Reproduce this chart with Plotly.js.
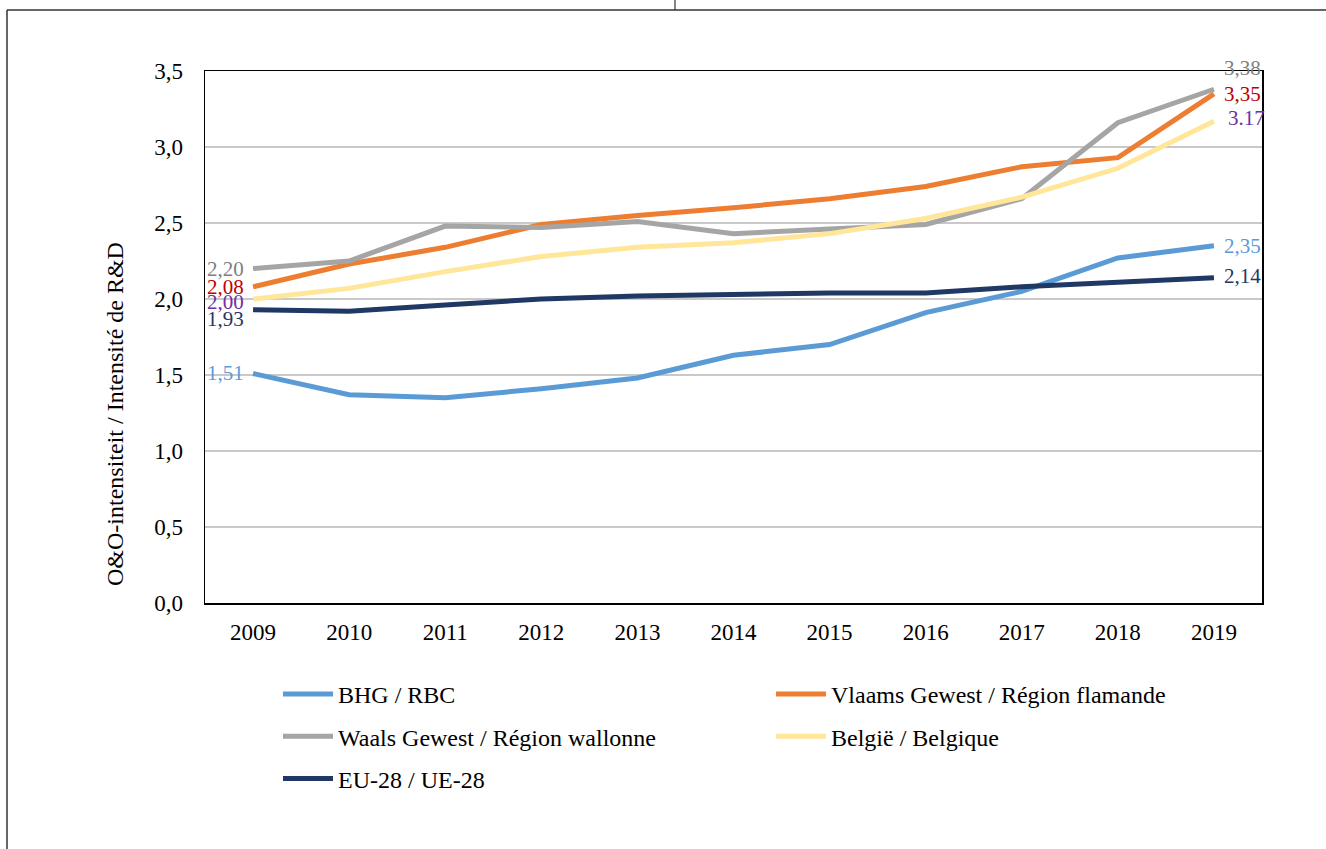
<!DOCTYPE html>
<html>
<head>
<meta charset="utf-8">
<script src="https://cdn.plot.ly/plotly-3.0.1.min.js"></script>
<style>html,body{margin:0;padding:0;background:#fff;}#chart{width:1326px;height:849px;}</style>
</head>
<body>
<div id="chart"></div>
<script>
const years = ['2009','2010','2011','2012','2013','2014','2015','2016','2017','2018','2019'];
const bhg    = [1.51, 1.37, 1.35, 1.41, 1.48, 1.63, 1.70, 1.91, 2.05, 2.27, 2.35];
const vlaams = [2.08, 2.23, 2.34, 2.49, 2.55, 2.60, 2.66, 2.74, 2.87, 2.93, 3.35];
const waals  = [2.20, 2.25, 2.48, 2.47, 2.51, 2.43, 2.46, 2.49, 2.66, 3.16, 3.38];
const belgie = [2.00, 2.07, 2.18, 2.28, 2.34, 2.37, 2.43, 2.53, 2.67, 2.86, 3.17];
const eu     = [1.93, 1.92, 1.96, 2.00, 2.02, 2.03, 2.04, 2.04, 2.08, 2.11, 2.14];
const names = ['BHG / RBC', 'Vlaams Gewest / Région flamande', 'Waals Gewest / Région wallonne', 'België / Belgique', 'EU-28 / UE-28'];
const startLabels = ['1,51', '2,08', '2,20', '2,00', '1,93'];
const endLabels   = ['2,35', '3,35', '3,38', '3.17', '2,14'];
const yTitle = 'O&amp;O-intensiteit / Intensité de R&amp;D';

const series = [bhg, vlaams, waals, belgie, eu];
const lineColors = ['#5b9bd5', '#ed7d31', '#a5a5a5', '#ffe699', '#203864'];
const labelColors = ['#5b9bd5', '#c00000', '#7f7f7f', '#7030a0', '#1f3864'];
const legendIds = ['legend', 'legend2', 'legend', 'legend2', 'legend'];
const startShift = [0, 0, 0, -3, -9];
const endShift = [0, 0, 21, 3, 2];
const endX = [8, 8, 8, 12, 8];

const font = '"Times New Roman", "Liberation Serif", serif';

const traces = series.map((vals, i) => ({
  type: 'scatter', mode: 'lines', x: years, y: vals, name: names[i],
  line: {color: lineColors[i], width: 5},
  legend: legendIds[i], legendgroup: 'g' + i, hoverinfo: 'skip'
}));

const L = 205, R = 64, T = 71, B = 246, W = 1326, H = 849;
const pw = W - L - R, ph = H - T - B;
const px = v => (v - L) / pw;
const py = v => (H - B - v) / ph;

// category axis: annotation positions given as category index
const firstIdx = 0, lastIdx = years.length - 1;
const annotations = [];
series.forEach((vals, i) => {
  annotations.push({x: firstIdx, y: vals[0], xref: 'x', yref: 'y', text: startLabels[i], showarrow: false,
    xanchor: 'right', yanchor: 'middle', xshift: -7, yshift: startShift[i],
    font: {family: font, size: 21, color: labelColors[i]}});
  annotations.push({x: lastIdx, y: vals[lastIdx], xref: 'x', yref: 'y', text: endLabels[i], showarrow: false,
    xanchor: 'left', yanchor: 'middle', xshift: endX[i], yshift: endShift[i],
    font: {family: font, size: 21, color: labelColors[i]}});
});
// y-axis title (placed lower than the plot centre, as in the reference)
annotations.push({x: px(115), y: py(414), xref: 'paper', yref: 'paper', text: yTitle, showarrow: false,
  textangle: -90, xanchor: 'center', yanchor: 'middle', font: {family: font, size: 24, color: '#000'}});

const shapes = [
  {type: 'line', xref: 'paper', yref: 'paper', x0: px(7), x1: px(1330), y0: py(10), y1: py(10), line: {color: '#333', width: 1.5}},
  {type: 'line', xref: 'paper', yref: 'paper', x0: px(7), x1: px(7), y0: py(10), y1: py(852), line: {color: '#333', width: 1.5}},
  {type: 'line', xref: 'paper', yref: 'paper', x0: px(675), x1: px(675), y0: py(-2), y1: py(10), line: {color: '#333', width: 1.2}}
];

const legendCommon = {
  orientation: 'v', xanchor: 'left', yanchor: 'top', tracegroupgap: 8,
  font: {family: font, size: 24, color: '#000'}, itemwidth: 50, bgcolor: 'rgba(0,0,0,0)'
};

const layout = {
  width: W, height: H,
  margin: {l: L, r: R, t: T, b: B},
  paper_bgcolor: '#fff', plot_bgcolor: '#fff',
  font: {family: font},
  separators: ', ',
  showlegend: true,
  xaxis: {
    type: 'category', range: [-0.5, 10.5], showgrid: false, zeroline: false,
    showline: true, mirror: true, linecolor: '#000', linewidth: 1.5,
    ticks: '', ticklabelstandoff: 8,
    tickfont: {family: font, size: 23, color: '#000'}
  },
  yaxis: {
    range: [0, 3.5], dtick: 0.5, tick0: 0, tickformat: '.1f',
    showgrid: true, gridcolor: '#c9c9c9', gridwidth: 1.5, zeroline: false,
    showline: true, mirror: true, linecolor: '#000', linewidth: 1.5,
    ticks: '', ticklabelstandoff: 16,
    tickfont: {family: font, size: 23, color: '#000'}
  },
  legend: Object.assign({}, legendCommon, {x: px(278), y: py(672)}),
  legend2: Object.assign({}, legendCommon, {x: px(771), y: py(672)}),
  annotations: annotations,
  shapes: shapes
};

Plotly.newPlot('chart', traces, layout, {displayModeBar: false, staticPlot: true});
</script>
</body>
</html>
